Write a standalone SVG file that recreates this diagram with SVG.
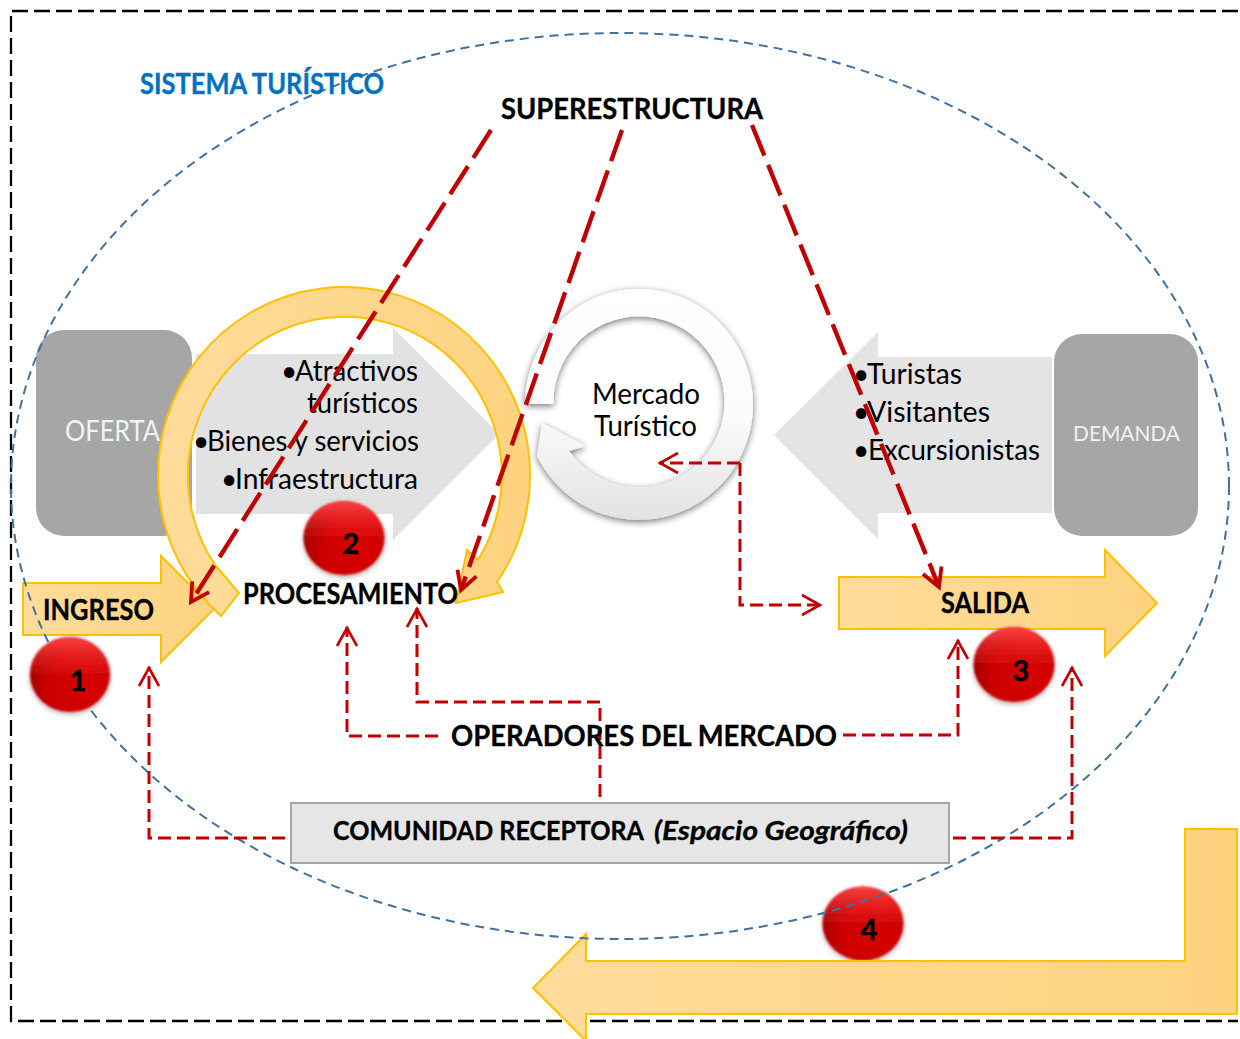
<svg xmlns="http://www.w3.org/2000/svg" width="1240" height="1039" viewBox="0 0 1240 1039">
<style>
text{font-family:"Lato","Liberation Sans",sans-serif;fill:#000}
.b{font-weight:700;font-size:29px;stroke:#000;stroke-width:.35}
.c{font-size:27px}
.r{font-size:28px}
.w{fill:#f2f2f2}
.gold{fill:url(#gold);stroke:#FFC000;stroke-width:2}
.gray{fill:#A6A6A6}
.big{fill:none;stroke:#C00000;stroke-width:4.400;stroke-dasharray:33 10;marker-end:url(#ah)}
.thin{fill:none;stroke:#C00000;stroke-width:3;stroke-dasharray:13 6}
.arr{marker-end:url(#at)}
.dig{font-weight:700;font-size:29px;stroke:#000;stroke-width:.5}
</style>
<defs>
<linearGradient id="gold" x1="0" y1="0" x2="1" y2="0"><stop offset="0" stop-color="#FEDC9A"/><stop offset="1" stop-color="#FDD380"/></linearGradient>
<linearGradient id="wg" x1="0" y1="0" x2="0" y2="1"><stop offset="0" stop-color="#FFFFFF"/><stop offset=".55" stop-color="#FBFBFB"/><stop offset="1" stop-color="#E2E2E2"/></linearGradient>
<radialGradient id="red" cx=".68" cy=".68" r=".75"><stop offset="0" stop-color="#D80000"/><stop offset=".6" stop-color="#CC0000"/><stop offset="1" stop-color="#9C0000"/></radialGradient>
<linearGradient id="hi" x1="0" y1="0" x2="0" y2="1"><stop offset="0" stop-color="#FF4040"/><stop offset=".55" stop-color="#FF3030" stop-opacity="0"/></linearGradient>
<filter id="sh" x="-20%" y="-20%" width="140%" height="140%"><feDropShadow dx="0" dy="2" stdDeviation="3.500" flood-color="#000" flood-opacity=".55"/></filter>
<filter id="bs" x="-20%" y="-20%" width="140%" height="140%"><feGaussianBlur in="SourceGraphic" stdDeviation=".8" result="g"/><feDropShadow in="g" dx="0" dy="2" stdDeviation="2.500" flood-color="#000" flood-opacity=".35"/></filter>
<marker id="ah" markerUnits="userSpaceOnUse" markerWidth="30" markerHeight="30" refX="25" refY="15" orient="auto"><path d="M7 5L25 15L7 25" fill="none" stroke="#C00000" stroke-width="3.800"/></marker>
<marker id="at" markerUnits="userSpaceOnUse" markerWidth="30" markerHeight="30" refX="24" refY="15" orient="auto"><path d="M5 5L23 15L5 25" fill="none" stroke="#C00000" stroke-width="2.600"/></marker>
</defs>
<rect width="1240" height="1039" fill="#fff"/>
<path id="frame" d="M1238 11H11V1021H1238" fill="none" stroke="#000" stroke-width="2.300" stroke-dasharray="16 6"/>

<g id="oferta"><rect class="gray" x="36" y="330" width="156" height="206" rx="28"/><text x="65" y="441" class="r w" textLength="95" lengthAdjust="spacingAndGlyphs">OFERTA</text></g>
<g id="demanda"><rect class="gray" x="1054" y="334" width="144" height="202" rx="28"/><text x="1073" y="441" class="w" font-size="21" textLength="107" lengthAdjust="spacingAndGlyphs">DEMANDA</text></g>

<g id="oferta-list"><path d="M196 354H393V328L499 434L393 540V514H196Z" fill="#E2E2E2"/>
<text x="281" y="381" class="r">•</text><text x="295" y="381" class="r" textLength="123" lengthAdjust="spacingAndGlyphs">Atractivos</text>
<text x="307" y="413" class="r" textLength="111" lengthAdjust="spacingAndGlyphs">turísticos</text>
<text x="193" y="451" class="r">•</text><text x="207" y="451" class="r" textLength="212" lengthAdjust="spacingAndGlyphs">Bienes y servicios</text>
<text x="221" y="489" class="r">•</text><text x="235" y="489" class="r" textLength="183" lengthAdjust="spacingAndGlyphs">Infraestructura</text></g>

<g id="demanda-list"><path d="M1052 357H878V332L774 435L878 539V513H1052Z" fill="#E4E4E4"/>
<text x="853" y="384" class="r">•</text><text x="867" y="384" class="r" textLength="95" lengthAdjust="spacingAndGlyphs">Turistas</text>
<text x="853" y="422" class="r">•</text><text x="867" y="422" class="r" textLength="123" lengthAdjust="spacingAndGlyphs">Visitantes</text>
<text x="853" y="460" class="r">•</text><text x="868" y="460" class="r" textLength="172" lengthAdjust="spacingAndGlyphs">Excursionistas</text></g>

<g id="mercado"><path d="M525 404A114 115.500 0 1 1 537 456L542 423L586 446L569 451A85.500 85.500 0 1 0 553.500 404Z" fill="url(#wg)" filter="url(#sh)"/>
<text x="592" y="404" class="r" textLength="108" lengthAdjust="spacingAndGlyphs">Mercado</text>
<text x="594" y="436" class="r" textLength="103" lengthAdjust="spacingAndGlyphs">Turístico</text></g>

<g id="ingreso"><path class="gold" d="M23 583H161V556L214 609L161 662V635H23Z"/><text x="43" y="620" class="b" textLength="111" lengthAdjust="spacingAndGlyphs">INGRESO</text></g>
<g id="procesamiento"><path class="gold" d="M239 593L221 616A186 188 0 1 1 497 582L503 592L456 603L467 550L478 560A157 159 0 1 0 215 565Z"/><text x="243" y="604" class="b" textLength="215" lengthAdjust="spacingAndGlyphs">PROCESAMIENTO</text></g>
<g id="salida"><path class="gold" d="M839 577H1105V550L1157 603L1105 656V629H839Z"/><text x="941" y="613" class="b" textLength="88" lengthAdjust="spacingAndGlyphs">SALIDA</text></g>

<g id="ball4"><g filter="url(#bs)"><ellipse cx="863" cy="923.500" rx="40.500" ry="37" fill="url(#red)"/><ellipse cx="863" cy="923.500" rx="40.500" ry="37" fill="url(#hi)"/></g><text x="869" y="940" class="dig" text-anchor="middle">4</text></g>
<g id="retorno"><path class="gold" d="M1185 829H1237V1014H586V1041L533 988L586 934V961H1185Z"/></g>

<ellipse id="sistema" cx="620" cy="486" rx="609" ry="453" fill="none" stroke="#41719C" stroke-width="2" stroke-dasharray="9 6"/>

<g id="ball1"><g filter="url(#bs)"><ellipse cx="70" cy="674.500" rx="40" ry="37.500" fill="url(#red)"/><ellipse cx="70" cy="674.500" rx="40" ry="37.500" fill="url(#hi)"/></g><text x="78" y="691" class="dig" text-anchor="middle">1</text></g>
<g id="ball2"><g filter="url(#bs)"><ellipse cx="344" cy="538" rx="40.500" ry="37" fill="url(#red)"/><ellipse cx="344" cy="538" rx="40.500" ry="37" fill="url(#hi)"/></g><text x="351" y="554" class="dig" text-anchor="middle">2</text></g>
<g id="ball3"><g filter="url(#bs)"><ellipse cx="1014" cy="664.500" rx="40.500" ry="37.500" fill="url(#red)"/><ellipse cx="1014" cy="664.500" rx="40.500" ry="37.500" fill="url(#hi)"/></g><text x="1021" y="681" class="dig" text-anchor="middle">3</text></g>

<g id="comunidad"><rect x="291" y="803" width="658" height="60" fill="#E7E6E6" stroke="#A6A6A6" stroke-width="2"/>
<text x="333" y="840" class="b c" textLength="311" lengthAdjust="spacingAndGlyphs">COMUNIDAD RECEPTORA</text>
<text x="654" y="840" class="b c" font-style="italic" textLength="254" lengthAdjust="spacingAndGlyphs">(Espacio Geográfico)</text></g>

<g id="connectors">
<path class="big" d="M491 130L191 602"/>
<path class="big" d="M622 130L461 590"/>
<path class="big" d="M752 125L939 587"/>
<path class="thin arr" d="M285 838H149V667"/>
<path class="thin arr" d="M438 736H347V627"/>
<path class="thin arr" d="M600 797V702H417V608"/>
<path class="thin arr" d="M843 735H958V640"/>
<path class="thin arr" d="M953 838H1072V667"/>
<path class="thin arr" d="M740 463H659"/>
<path class="thin arr" d="M740 463V605H821"/>
</g>

<g id="labels">
<text x="140" y="94" class="b" style="fill:#0070C0;stroke:#0070C0" textLength="244" lengthAdjust="spacingAndGlyphs">SISTEMA TURÍSTICO</text>
<text x="501" y="119" class="b" textLength="262" lengthAdjust="spacingAndGlyphs">SUPERESTRUCTURA</text>
<text x="451" y="746" class="b" textLength="386" lengthAdjust="spacingAndGlyphs">OPERADORES DEL MERCADO</text>
</g>
</svg>
